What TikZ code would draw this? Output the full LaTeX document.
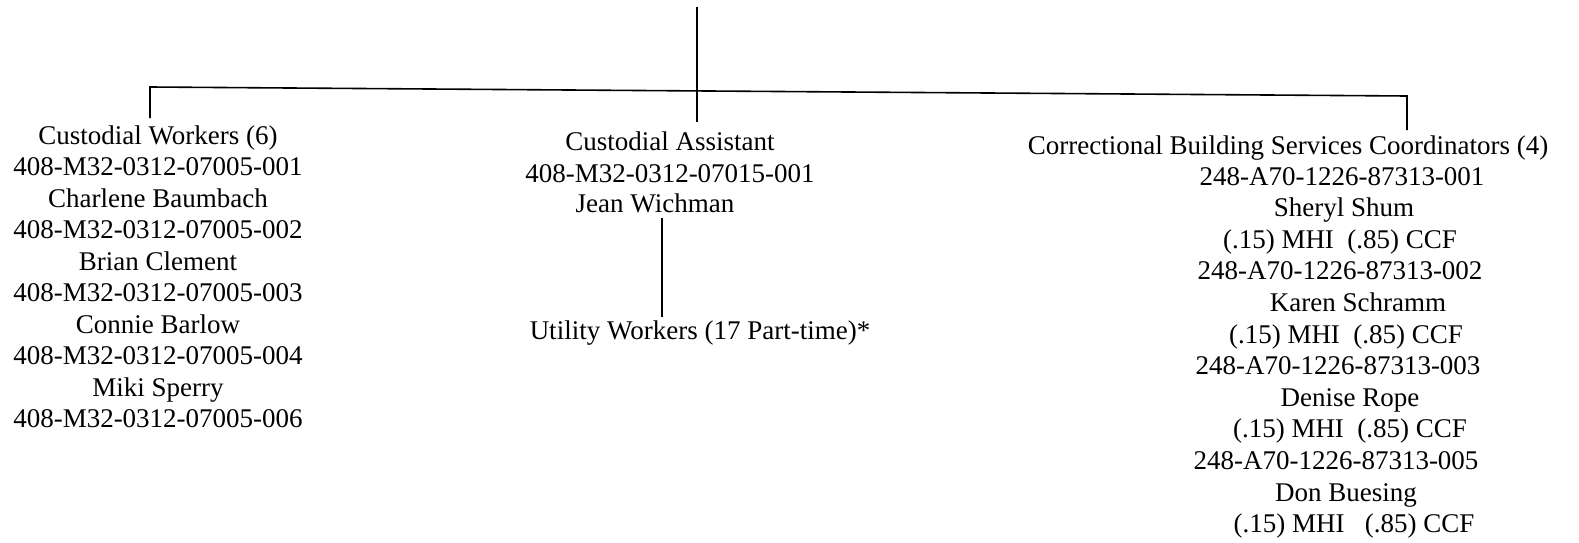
\documentclass[tikz,border=0pt]{standalone}
\usepackage{fontspec}
\setmainfont{Liberation Serif}
\begin{document}
\begin{tikzpicture}[x=1pt,y=-1pt,
  lbl/.style={anchor=base,inner sep=0pt,font=\fontsize{27}{31.7}\selectfont},
  conn/.style={line width=1.6pt}]
\useasboundingbox (0,0) rectangle (1579,543);
% connector points
\coordinate (top) at (697,7);
\coordinate (bl) at (150,87);
\coordinate (br) at (1407,96);
\coordinate (lend) at (150,118);
\coordinate (mend) at (697,122);
\coordinate (rend) at (1407,130);
% left block
\foreach \t [count=\i] in {Custodial Workers (6),408-M32-0312-07005-001,Charlene Baumbach,408-M32-0312-07005-002,Brian Clement,408-M32-0312-07005-003,Connie Barlow,408-M32-0312-07005-004,Miki Sperry,408-M32-0312-07005-006}
  \node[lbl] (L\i) at (158,{144+31.5*(\i-1)}) {\t};
% middle block
\node[lbl] (M1) at (670,150) {Custodial Assistant};
\node[lbl] (M2) at (670,182) {408-M32-0312-07015-001};
\node[lbl] (M3) at (655,212) {Jean Wichman};
\node[lbl] (U) at (700,339) {Utility Workers (17 Part-time)*};
\coordinate (ma) at (662,218);
\coordinate (mb) at (662,317);
% right block
\node[lbl] (R0) at (1288,154) {Correctional Building Services Coordinators (4)};
\foreach \t/\xx [count=\i] in {248-A70-1226-87313-001/1342,Sheryl Shum/1344,(.15) MHI\ \ (.85) CCF/1340,248-A70-1226-87313-002/1340,Karen Schramm/1358,(.15) MHI\ \ (.85) CCF/1346,248-A70-1226-87313-003/1338,Denise Rope/1350,(.15) MHI\ \ (.85) CCF/1350,248-A70-1226-87313-005/1336,Don Buesing/1346,(.15) MHI\ \ \ (.85) CCF/1354}
  \node[lbl] (R\i) at (\xx,{185+31.6*(\i-1)}) {\t};
% connectors
\draw[conn] (top) -- (mend);
\draw[conn] (lend) -- (bl) -- (br) -- (rend);
\draw[conn] (ma) -- (mb);
\end{tikzpicture}
\end{document}
